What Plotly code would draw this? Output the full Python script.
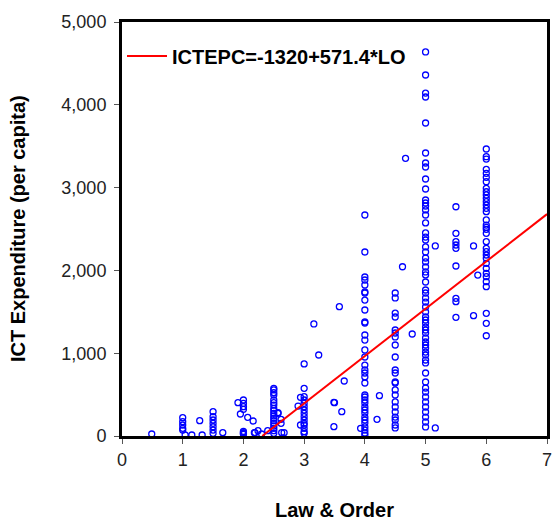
import plotly.graph_objects as go

# ICT expenditure (per capita) grouped by Law & Order score (stacked columns)
ict_lo_1_0 = [221, 173, 133, 93, 72]
ict_lo_1_5 = [294, 233, 193, 153, 112, 72, 32]
ict_lo_2_0 = [435, 395, 354, 322, 40, 30, 20, 55]
ict_lo_2_5 = [576, 556, 523, 495, 435, 402, 374, 334, 306, 274, 242, 213, 185, 153, 121, 93, 64, 32]
ict_lo_3_0 = [870, 576, 475, 435, 395, 354, 314, 274, 233, 193, 153, 133, 93, 52, 32]
ict_lo_4_0 = [2669, 2222, 1920, 1884, 1824, 1739, 1727, 1642, 1522, 1377, 1365, 1220, 1159, 1039,
              954, 857, 797, 761, 713, 640, 495, 471, 435, 399, 350, 314, 278, 229, 193, 157, 109, 72, 36, 10]
ict_lo_4_5 = [1727, 1667, 1485, 1437, 1280, 1244, 1196, 1099, 954, 797, 761, 652, 640, 556, 495,
              411, 350, 290, 229, 193, 133, 97]
ict_lo_5_0 = [4638, 4360, 4142, 4094, 3780, 3418, 3297, 3249, 3104, 2983, 2850, 2814, 2778, 2730,
              2669, 2573, 2452, 2403, 2367, 2283, 2222, 2150, 2102, 2041, 1981, 1945, 1860, 1763,
              1727, 1667, 1618, 1558, 1498, 1437, 1401, 1365, 1316, 1280, 1244, 1184, 1135, 1099,
              1063, 1014, 978, 918, 882, 761, 652, 580, 531, 471, 411, 350, 290, 229, 169, 109]
ict_lo_5_5 = [2769, 2448, 2347, 2307, 2267, 2053, 1663, 1622, 1433]
ict_lo_6_0 = [3466, 3373, 3345, 3221, 3173, 3124, 3071, 2991, 2950, 2911, 2871, 2830, 2790, 2750,
              2709, 2609, 2548, 2520, 2496, 2448, 2347, 2267, 2226, 2186, 2146, 2086, 2025, 1965,
              1924, 1864, 1803, 1482, 1361, 1211]

# scattered observations off the main columns
lo_other = [0.49, 1.04, 1.15, 1.28, 1.32, 1.66, 1.91, 1.95, 2.07, 2.16, 2.19, 2.18, 2.24, 2.30,
            2.40, 2.57, 2.57, 2.62, 2.62, 2.63, 2.67, 2.90, 2.94, 2.94, 3.16, 3.24, 3.49, 3.49,
            3.50, 3.58, 3.62, 3.66, 3.93, 4.20, 4.24, 4.62, 4.67, 4.78, 5.16, 5.16, 5.79, 5.79, 5.86]
ict_other = [24, 12, 12, 185, 12, 40, 402, 266, 226, 181, 40, 40, 64, 24,
             64, 282, 274, 201, 153, 40, 40, 362, 467, 133, 1353, 978, 407, 113,
             402, 1562, 294, 664, 93, 201, 487, 2044, 3354, 1232, 97, 2295, 2295, 1453, 1944]

columns = [(1.0, ict_lo_1_0), (1.5, ict_lo_1_5), (2.0, ict_lo_2_0), (2.5, ict_lo_2_5),
           (3.0, ict_lo_3_0), (4.0, ict_lo_4_0), (4.5, ict_lo_4_5), (5.0, ict_lo_5_0),
           (5.5, ict_lo_5_5), (6.0, ict_lo_6_0)]

law_order = []
ict_exp = []
for lo, vals in columns:
    law_order += [lo] * len(vals)
    ict_exp += vals
law_order += lo_other
ict_exp += ict_other

# fitted regression
intercept = -1320.0
slope = 571.4
x_max = 7.0
x_fit = [-intercept / slope, x_max]
y_fit = [intercept + slope * x for x in x_fit]

fig = go.Figure()
fig.add_trace(go.Scatter(
    x=law_order, y=ict_exp, mode="markers",
    marker=dict(symbol="circle-open", color="#0000FF", size=6, line=dict(width=1.3, color="#0000FF")),
    showlegend=False, cliponaxis=False,
))
fig.add_trace(go.Scatter(
    x=x_fit, y=y_fit, mode="lines",
    line=dict(color="#FF0000", width=2),
    name="ICTEPC=-1320+571.4*LO",
))

font_family = "Liberation Sans, Arial, sans-serif"
fig.update_layout(
    width=556, height=522,
    margin=dict(l=122, r=4, t=22, b=86),
    paper_bgcolor="white", plot_bgcolor="white",
    font=dict(family=font_family, size=18, color="#000000"),
    showlegend=True,
    legend=dict(x=0.0, y=0.965, xanchor="left", yanchor="top",
                bgcolor="rgba(0,0,0,0)", font=dict(size=20, family=font_family, weight="bold"),
                itemwidth=40),
    xaxis=dict(range=[0, 7], dtick=1, tick0=0, showgrid=False, zeroline=False,
               showline=True, linecolor="black", linewidth=3, mirror=True,
               ticks="outside", ticklen=5, tickwidth=1, tickcolor="#555555",
               tickfont=dict(size=18, color="#222222")),
    yaxis=dict(range=[0, 5000], dtick=1000, tickformat=",", showgrid=False, zeroline=False,
               showline=True, linecolor="black", linewidth=3, mirror=True,
               ticks="outside", ticklen=5, tickwidth=1, tickcolor="#555555",
               ticklabelstandoff=4,
               tickfont=dict(size=18, color="#222222")),
    annotations=[
        dict(text="<b>Law &amp; Order</b>", xref="paper", yref="paper", x=0.5, y=0,
             yshift=-74, xanchor="center", yanchor="middle", showarrow=False,
             font=dict(size=20, family=font_family)),
        dict(text="<b>ICT Expenditure (per capita)</b>", xref="paper", yref="paper", x=0, y=0.5,
             xshift=-104, xanchor="center", yanchor="middle", textangle=-90, showarrow=False,
             font=dict(size=20, family=font_family)),
    ],
)

fig.write_html("out.html")
